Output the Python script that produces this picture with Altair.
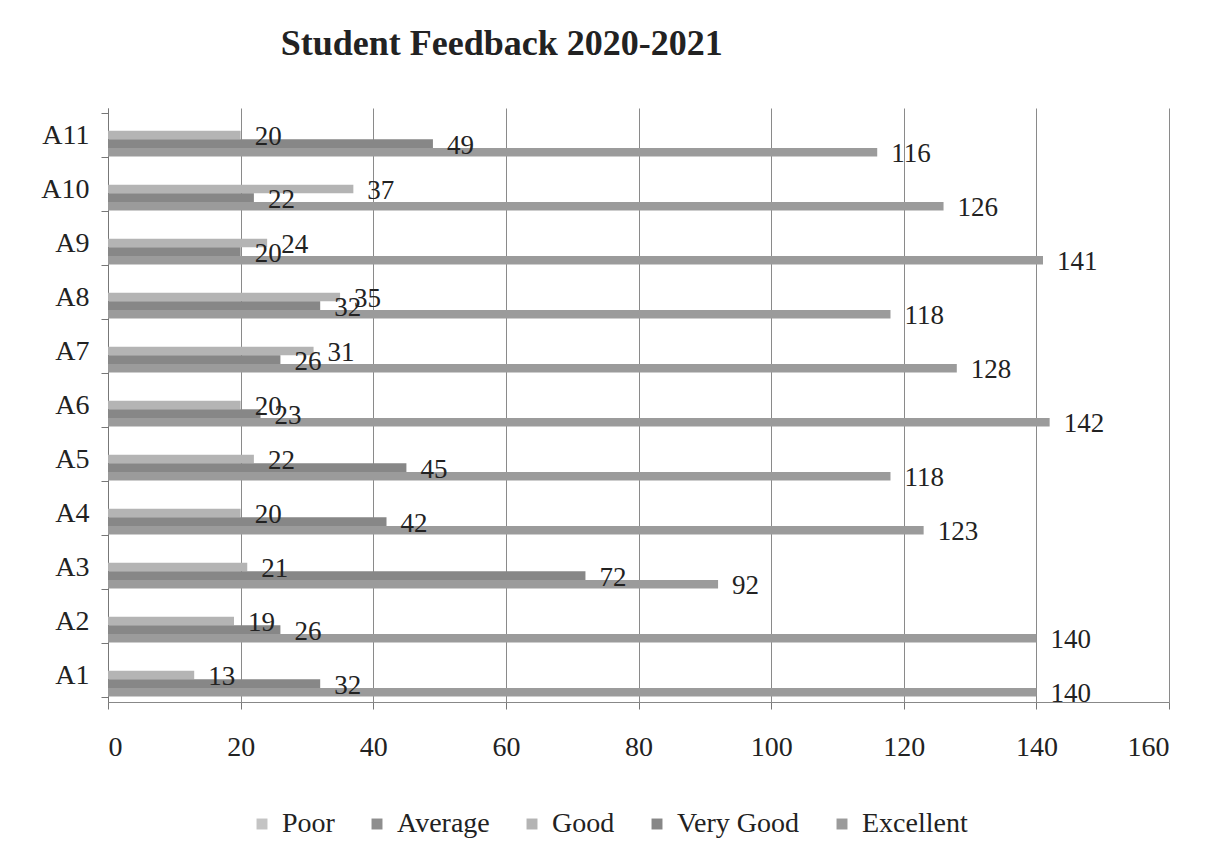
import altair as alt
import pandas as pd

categories = ["A1", "A2", "A3", "A4", "A5", "A6", "A7", "A8", "A9", "A10", "A11"]
series = ["Poor", "Average", "Good", "Very Good", "Excellent"]
poor = [0, 0, 0, 0, 0, 0, 0, 0, 0, 0, 0]
average = [0, 0, 0, 0, 0, 0, 0, 0, 0, 0, 0]
good = [13, 19, 21, 20, 22, 20, 31, 35, 24, 37, 20]
very_good = [32, 26, 72, 42, 45, 23, 26, 32, 20, 22, 49]
excellent = [140, 140, 92, 123, 118, 142, 128, 118, 141, 126, 116]
colors = ["#c4c4c4", "#8e8e8e", "#b4b4b4", "#878787", "#9b9b9b"]

rows = []
for name, vals in zip(series, [poor, average, good, very_good, excellent]):
    for c, v in zip(categories, vals):
        rows.append({"cat": c, "series": name, "value": v})
df = pd.DataFrame(rows)

FONT = "Liberation Serif"
cat_order = list(reversed(categories))

y_enc = alt.Y("cat:N", sort=cat_order,
              scale=alt.Scale(paddingInner=0.2, paddingOuter=0.1),
              axis=alt.Axis(title=None, labelFontSize=28, labelFont=FONT,
                            labelColor="#222", labelPadding=12,
                            tickBand="extent", tickSize=7, tickColor="#777",
                            domainColor="#777", grid=False, labelAlign="right"))
yoff = alt.YOffset("series:N", sort=series, scale=alt.Scale(paddingInner=0, paddingOuter=0))

bars = alt.Chart(df).mark_bar(size=8.6).encode(
    x=alt.X("value:Q", scale=alt.Scale(domain=[0, 160]),
            axis=alt.Axis(title=None, values=list(range(0, 161, 20)),
                          labelFontSize=28, labelFont=FONT, labelColor="#222",
                          labelPadding=24, tickSize=7, tickColor="#777",
                          domainColor="#888", gridColor="#8a8a8a", gridWidth=1)),
    y=y_enc,
    yOffset=yoff,
    color=alt.Color("series:N", sort=series,
                    scale=alt.Scale(domain=series, range=colors),
                    legend=alt.Legend(title=None, orient="none", direction="horizontal",
                                      legendX=140, legendY=702,
                                      labelFont=FONT, labelFontSize=28, labelColor="#222",
                                      symbolType="square", symbolSize=120,
                                      symbolStrokeWidth=0, columnPadding=28,
                                      labelOffset=6)),
)

labels = alt.Chart(df).transform_filter("datum.value > 0").mark_text(
    align="left", baseline="middle", dx=14, dy=2, font=FONT, fontSize=27, color="#222"
).encode(
    x="value:Q",
    y=alt.Y("cat:N", sort=cat_order),
    yOffset=yoff,
    text="value:Q",
)

chart = alt.layer(bars, labels).properties(
    width=1061, height=594,
    title=alt.TitleParams("Student Feedback 2020-2021", font=FONT, fontSize=36,
                          fontWeight="bold", color="#222", anchor="start", dx=240, offset=31),
    autosize=alt.AutoSizeParams(type="none"),
    padding={"left": 100, "top": 100, "right": 45, "bottom": 140},
).configure(background="white").configure_view(stroke="transparent", strokeWidth=0)

chart.save("out.html", embed_options={"renderer": "svg", "actions": False})
